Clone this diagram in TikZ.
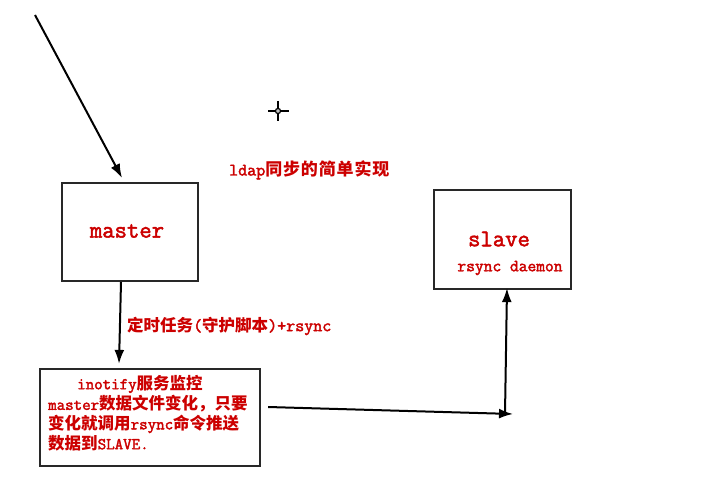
\documentclass[tikz,border=0pt]{standalone}
\usepackage{fontspec}
\usetikzlibrary{arrows.meta}
\newfontfamily\latfont{Latin Modern Mono}[FakeBold=2.2]
\newfontfamily\zhfont{Noto Sans CJK SC}
\newfontfamily\zhwide{Noto Sans CJK SC}[LetterSpace=5]
\definecolor{txtred}{RGB}{204,0,0}
\definecolor{boxgray}{RGB}{40,40,40}
\newcommand\lat[2]{{\fontsize{#1}{#1}\selectfont\latfont #2}}
\newcommand\zh[2]{{\fontsize{#1}{#1}\selectfont\zhfont\bfseries #2}}
\newcommand\zhw[2]{{\fontsize{#1}{#1}\selectfont\zhwide\bfseries #2}}
\begin{document}
\begin{tikzpicture}[x=1pt,y=-1pt,
  box/.style={draw=boxgray,line width=2.2pt,fill=white,inner sep=0pt},
  txt/.style={text=txtred,inner sep=0pt},
  arr/.style={draw=black,line width=2pt,-{Latex[length=14pt,width=10pt]}}]
\useasboundingbox[fill=white] (0,0) rectangle (704,500);

% boxes
\node[box,minimum width=136pt,minimum height=98pt] (master) at (130,232) {};
\node[box,minimum width=137pt,minimum height=99pt] (slave) at (502.5,239.5) {};
\node[box,minimum width=220pt,minimum height=97pt] (mon) at (150,417.5) {};

% texts
\node[txt,anchor=west] (title) at (229,170) {\lat{17.5}{ldap}\zhw{17}{同步的简单实现}};
\node[txt] (mastertxt) at (127,231) {\lat{24}{master}};
\node[txt] (slavetxt) at (499,239) {\lat{24}{slave}};
\node[txt] (daemon) at (510,268) {\lat{17}{rsync daemon}};
\node[txt,anchor=west] (label) at (127,326) {\zh{16.5}{定时任务}\lat{17.5}{(}\zh{16.5}{守护脚本}\lat{17.5}{)+rsync}};
\node[txt,anchor=west] (l1) at (77,384) {\lat{16.5}{inotify}\zh{16.5}{服务监控}};
\node[txt,anchor=west] (l2) at (48,404) {\lat{16.5}{master}\zh{16.5}{数据文件变化，只要}};
\node[txt,anchor=west] (l3) at (48,424) {\zh{16.5}{变化就调用}\lat{16.5}{rsync}\zh{16.5}{命令推送}};
\node[txt,anchor=west] (l4) at (48,443) {\zh{16.5}{数据到}\lat{16.5}{SLAVE.}};

% crosshair
\coordinate (cross) at (278,111);
\draw[line width=1.3pt] (cross) circle (2.5pt);
\draw[line width=1.3pt] (268,111) -- (275.5,111) (280.5,111) -- (289,111)
  (278,101) -- (278,108.5) (278,113.5) -- (278,121);
\fill (cross) circle (0.7pt);

% connectors
\coordinate (start) at (35,15);
\coordinate (hend) at (513,414);
\coordinate (corner) at (505,414);
\draw[arr] (start) -- ([shift={(-8,-4)}]master.north);
\draw[arr] ([xshift=-9pt]master.south) -- ([shift={(-31,-4)}]mon.north);
\draw[arr] ([shift={(7,-10.5)}]mon.east) -- (hend);
\draw[arr] (corner) -- ([shift={(4.5,-2)}]slave.south);
\end{tikzpicture}
\end{document}
